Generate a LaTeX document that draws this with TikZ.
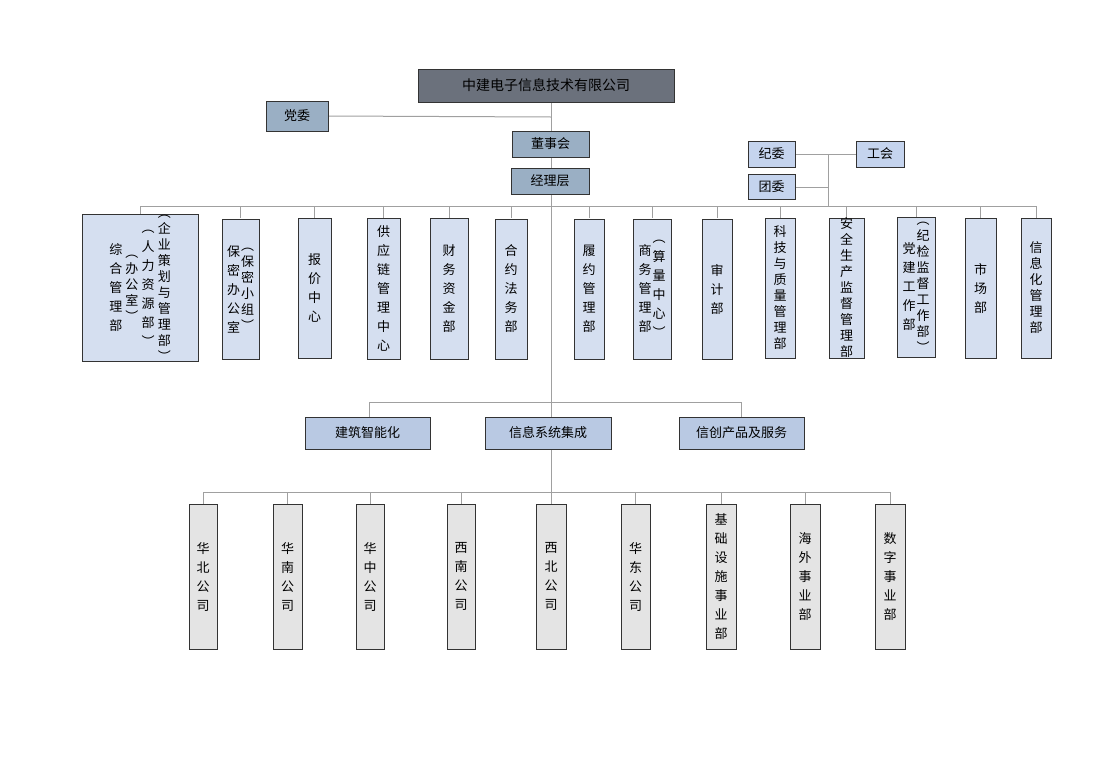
\documentclass[tikz,border=0pt]{standalone}
\usepackage{fontspec}
\setmainfont{Noto Sans CJK SC}
\ExplSyntaxOn
\newcommand\V[2][19pt]{$\vcenter{\baselineskip=#1\lineskiplimit=-20pt\tl_map_inline:nn{#2}{\hbox to 14pt{\hss##1\hss}}}$}
\ExplSyntaxOff
\definecolor{topc}{HTML}{6B717C}
\definecolor{midc}{HTML}{9AAFC4}
\definecolor{litc}{HTML}{C5D4EE}
\definecolor{depc}{HTML}{D5DFF0}
\definecolor{subc}{HTML}{B9C9E3}
\definecolor{grc}{HTML}{E4E4E4}
\definecolor{lnc}{HTML}{A0A0A0}
\tikzset{
 bx/.style={draw=black!80,line width=1pt,inner sep=0pt,font=\fontsize{13}{19}\selectfont},
 ln/.style={draw=lnc,line width=1pt}
}
\newcommand\bxat[6]{\node[bx,fill=#5,minimum width={#3-#1},minimum height={#4-#2}] (#6) at ({(#1+#3)/2},{(#2+#4)/2})}
\begin{document}
\begin{tikzpicture}[x=1pt,y=-1pt]
\useasboundingbox (0,0) rectangle (1120,766);
% lines
\draw[ln] (551,102) -- (551,492);
\draw[ln] (328,116) -- (551,117);
\draw[ln] (141,206) -- (1037,206);
\draw[ln] (795,154) -- (856,154);
\draw[ln] (828,154) -- (828,206);
\draw[ln] (795,187) -- (828,187);
\draw[ln] (369,402) -- (741,402);
\draw[ln] (203,492) -- (890,492);
% top
\bxat{418}{69}{674}{102}{topc}{top} {\fontsize{14}{16}\selectfont 中建电子信息技术有限公司};
\bxat{266}{101}{328}{131}{midc}{dw} {党委};
\bxat{512}{131}{589}{157}{midc}{dsh} {董事会};
\bxat{511}{168}{589}{194}{midc}{jlc} {经理层};
\bxat{748}{141}{795}{167}{litc}{jw} {纪委};
\bxat{856}{141}{904}{167}{litc}{gh} {工会};
\bxat{748}{174}{795}{199}{litc}{tw} {团委};
% departments
\foreach \a/\b/\n in {82/198/d1,222/259/d2,298/331/d3,367/400/d4,430/468/d5,495/527/d6,574/604/d7,633/671/d8,702/732/d9,765/795/d10,829/864/d11,897/935/d12,965/996/d13,1021/1051/d14}
 \draw[ln] ({(\a+\b)/2},206) -- ({(\a+\b)/2},218);
\bxat{82}{218}{198}{358}{depc}{d1} {\V{综合管理部}\,\V[16pt]{︵办公室︶}\,\V{︵人力资源部︶}\,\V[16pt]{︵企业策划与管理部︶}};
\bxat{222}{219}{259}{359}{depc}{d2} {\V{保密办公室}\V[16pt]{︵保密小组︶}};
\bxat{298}{218}{331}{358}{depc}{d3} {\V{报价中心}};
\bxat{367}{218}{400}{359}{depc}{d4} {\V{供应链管理中心}};
\bxat{430}{218}{468}{359}{depc}{d5} {\V{财务资金部}};
\bxat{495}{219}{527}{359}{depc}{d6} {\V{合约法务部}};
\bxat{574}{219}{604}{359}{depc}{d7} {\V{履约管理部}};
\bxat{633}{219}{671}{359}{depc}{d8} {\V{商务管理部}\V{︵算量中心︶}};
\bxat{702}{219}{732}{359}{depc}{d9} {\V{审计部}};
\bxat{765}{218}{795}{358}{depc}{d10} {\V[16pt]{科技与质量管理部}};
\bxat{829}{218}{864}{358}{depc}{d11} {\V[16pt]{安全生产监督管理部}};
\bxat{897}{217}{935}{357}{depc}{d12} {\V{党建工作部}\V[16pt]{︵纪检监督工作部︶}};
\bxat{965}{218}{996}{358}{depc}{d13} {\V{市场部}};
\bxat{1021}{218}{1051}{358}{depc}{d14} {\V[16pt]{信息化管理部}};
% middle
\draw[ln] (369,402) -- (369,417);
\draw[ln] (741,402) -- (741,417);
\bxat{305}{417}{430}{449}{subc}{m1} {建筑智能化};
\bxat{485}{417}{611}{449}{subc}{m2} {信息系统集成};
\bxat{679}{417}{804}{449}{subc}{m3} {信创产品及服务};
% bottom
\foreach \a/\b in {189/217,273/302,356/384,447/475,536/566,621/650,706/736,790/820,875/905}
 \draw[ln] ({(\a+\b)/2},492) -- ({(\a+\b)/2},504);
\bxat{189}{504}{217}{649}{grc}{b1} {\V{华北公司}};
\bxat{273}{504}{302}{649}{grc}{b2} {\V{华南公司}};
\bxat{356}{504}{384}{649}{grc}{b3} {\V{华中公司}};
\bxat{447}{504}{475}{649}{grc}{b4} {\V{西南公司}};
\bxat{536}{504}{566}{649}{grc}{b5} {\V{西北公司}};
\bxat{621}{504}{650}{649}{grc}{b6} {\V{华东公司}};
\bxat{706}{504}{736}{649}{grc}{b7} {\V{基础设施事业部}};
\bxat{790}{504}{820}{649}{grc}{b8} {\V{海外事业部}};
\bxat{875}{504}{905}{649}{grc}{b9} {\V{数字事业部}};
\end{tikzpicture}
\end{document}
